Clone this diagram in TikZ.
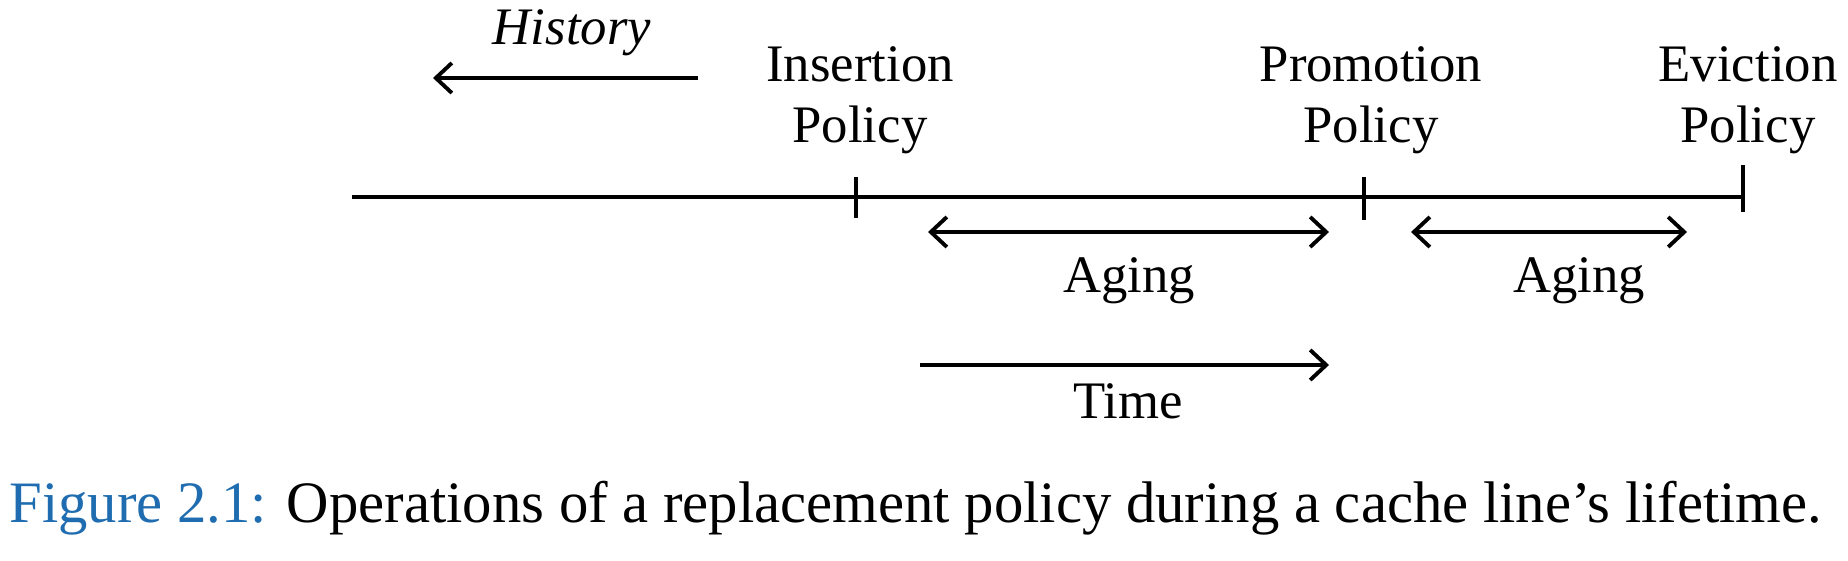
\documentclass[tikz,border=0pt]{standalone}
\usepackage{fontspec}
\setmainfont{Liberation Serif}
\usepackage{xcolor}
\usetikzlibrary{arrows.meta, positioning}
\definecolor{capblue}{HTML}{1F6DB0}

\begin{document}
\begin{tikzpicture}[
  lbl/.style={font=\fontsize{15}{17.5}\selectfont, align=center, inner sep=0pt},
  line/.style={line width=0.9pt},
  tip/.style={line width=1.1pt, -{Straight Barb[length=1.6mm, width=3mm]}},
  both/.style={line width=1.1pt, {Straight Barb[length=1.6mm, width=3mm]}-{Straight Barb[length=1.6mm, width=3mm]}}
]
  \useasboundingbox (0,0) rectangle (18.48,5.6);

  % Timeline points
  \coordinate (start) at (3.52,3.63);
  \coordinate (ins) at (8.56,3.63);
  \coordinate (pro) at (13.64,3.63);
  \coordinate (evi) at (17.43,3.63);

  \draw[line] (start) -- (evi);
  \draw[line] ([yshift=2mm]ins) -- ([yshift=-2.1mm]ins);
  \draw[line] ([yshift=2mm]pro) -- ([yshift=-2.3mm]pro);
  \draw[line] ([yshift=3.2mm]evi) -- ([yshift=-1.5mm]evi);

  % Policy labels
  \node[lbl] (inslbl) at (8.60,4.60) {Insertion\\Policy};
  \node[lbl] (prolbl) at (13.71,4.60) {Promotion\\Policy};
  \node[lbl] (evilbl) at (17.48,4.60) {Eviction\\Policy};

  % History
  \node[lbl, font=\fontsize{15}{17.5}\selectfont\itshape] (hist) at (5.72,5.27) {History};
  \coordinate (histA) at (6.98,4.82);
  \coordinate (histB) at (4.33,4.82);
  \draw[tip] (histA) -- (histB);

  % Aging
  \coordinate (ag1a) at (9.28,3.28);
  \coordinate (ag1b) at (13.29,3.28);
  \coordinate (ag2a) at (14.11,3.28);
  \coordinate (ag2b) at (16.87,3.28);
  \draw[both] (ag1a) -- (ag1b);
  \draw[both] (ag2a) -- (ag2b);
  \node[lbl] (aging1) at (11.29,2.79) {Aging};
  \node[lbl] (aging2) at (15.79,2.79) {Aging};

  % Time
  \coordinate (tA) at (9.20,1.95);
  \coordinate (tB) at (13.29,1.95);
  \draw[tip] (tA) -- (tB);
  \node[lbl] (time) at (11.28,1.59) {Time};

  % Caption
  \node[lbl, font=\fontsize{16.7}{19}\selectfont, anchor=west] (cap) at (0.09,0.52)
    {\textcolor{capblue}{Figure 2.1:} Operations of a replacement policy during a cache line’s lifetime.};
\end{tikzpicture}
\end{document}
